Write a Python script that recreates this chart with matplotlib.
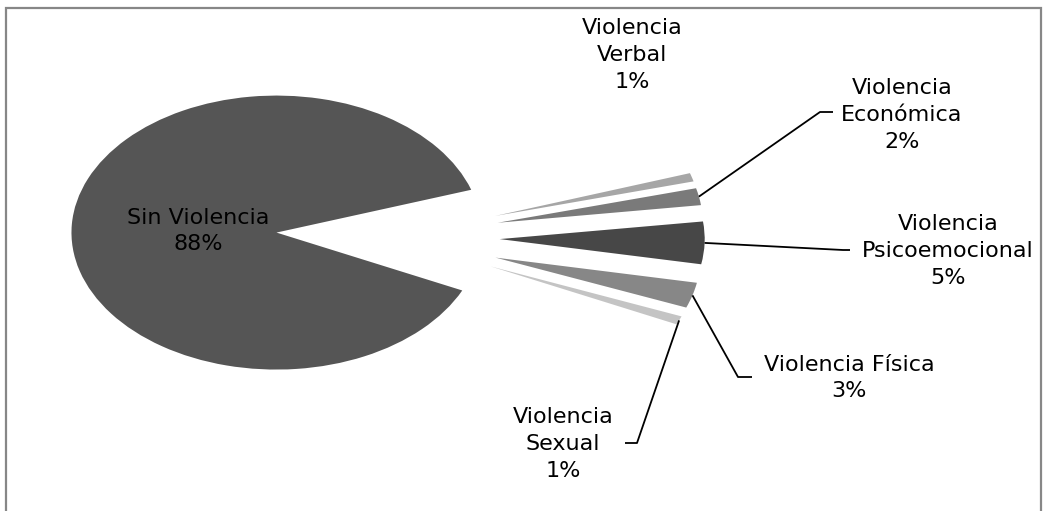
import numpy as np
import matplotlib.pyplot as plt
from matplotlib.patches import Rectangle

# Datos del gráfico
categorias = ['Sin Violencia', 'Violencia\nVerbal', 'Violencia\nEconómica',
              'Violencia\nPsicoemocional', 'Violencia Física', 'Violencia\nSexual']
porcentajes = [88, 1, 2, 5, 3, 1]
colores = ['#555555', '#a6a6a6', '#7a7a7a', '#474747', '#878787', '#c4c4c4']

# Layout (pixel) del gráfico original
W, H = 1048, 511
CX, CY, RX, RY = 388, 237, 205, 137   # centro y radios de la torta (px)

def px2data(px, py):
    return (px - CX) / RX, (CY - py) / RY

fig = plt.figure(figsize=(W / 100, H / 100), dpi=100)
ax = fig.add_axes([0, 0, 1, 1])

wedges, _ = ax.pie(porcentajes, explode=[0.545] * len(porcentajes), startangle=-25,
                   counterclock=False, colors=colores,
                   wedgeprops=dict(linewidth=0))
ax.set_aspect('auto')
x0, _ = px2data(0, 0)
x1, _ = px2data(W, 0)
_, y0 = px2data(0, H)
_, y1 = px2data(0, 0)
ax.set_xlim(x0, x1)
ax.set_ylim(y0, y1)
ax.axis('off')

# Posiciones de las etiquetas (px) y codo de la línea guía (None = sin línea)
pos_etiquetas = [(198, 231), (632, 55), (902, 115), (948, 251), (849, 378), (563, 444)]
codos = [None, None, ((820, 112), (833, 112)), ((843, 250), (850, 250)),
         ((738, 377), (752, 377)), ((637, 443), (625, 443))]

for w, cat, p, pos, codo in zip(wedges, categorias, porcentajes, pos_etiquetas, codos):
    tx, ty = px2data(*pos)
    ax.text(tx, ty, f'{cat}\n{p}%', ha='center', va='center', fontsize=16,
            family='DejaVu Sans', color='black', linespacing=1.42)
    if codo is None:
        continue
    # punto medio del arco exterior de cada porción
    ang = np.deg2rad((w.theta1 + w.theta2) / 2)
    sx = w.center[0] + w.r * np.cos(ang)
    sy = w.center[1] + w.r * np.sin(ang)
    (ex, ey), (hx, hy) = px2data(*codo[0]), px2data(*codo[1])
    ax.plot([sx, ex, hx], [sy, ey, hy], color='black', linewidth=1.3,
            solid_capstyle='butt')

# Borde del área del gráfico
fig.patches.append(Rectangle((6 / W, -0.02), (1041 - 6) / W, (H - 8) / H + 0.02,
                             transform=fig.transFigure, fill=False,
                             edgecolor='#878787', linewidth=1.6))

fig.savefig('out.png', dpi=100)
